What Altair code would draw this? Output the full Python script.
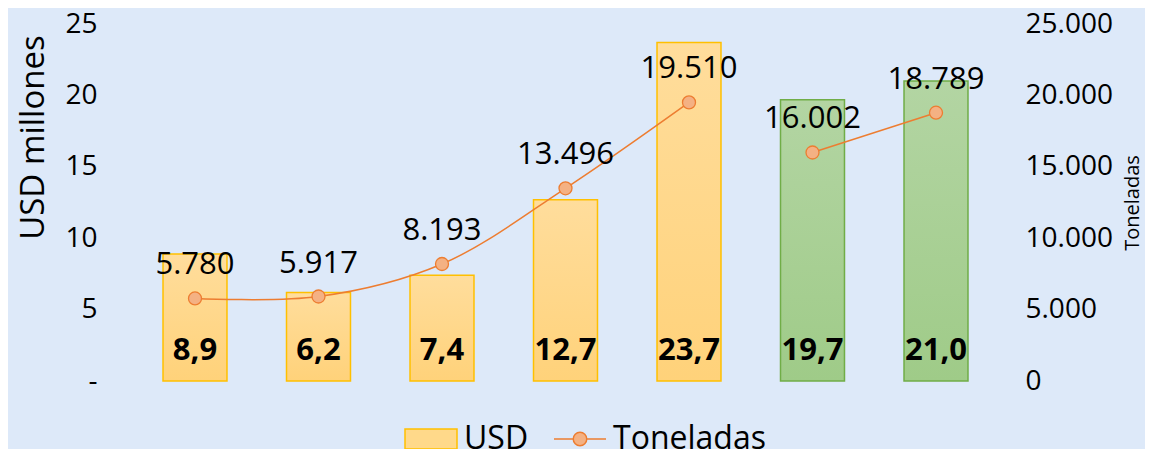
import altair as alt
import pandas as pd

categorias = ["2015", "2016", "2017", "2018", "2019", "2020", "2021"]
usd_millones = [8.9, 6.2, 7.4, 12.7, 23.7, 19.7, 21.0]
toneladas = [5780, 5917, 8193, 13496, 19510, 16002, 18789]
grupo = ["hist", "hist", "hist", "hist", "hist", "proy", "proy"]

series = ["USD", "Toneladas"]
serie_fill = ["#ffd98a", "#f4b183"]
serie_stroke = ["#ffc000", "#ed7d31"]
serie_shape = [
    "M-1,-0.385H1V0.385H-1Z",
    "M-1,0H-0.26M0.26,0H1M0.26,0A0.26,0.26,0,1,1,-0.26,0A0.26,0.26,0,1,1,0.26,0Z",
]

df = pd.DataFrame({
    "cat": categorias,
    "usd": usd_millones,
    "ton": toneladas,
    "grupo": grupo,
    "serie": ["Toneladas"] * len(categorias),
})

FONT = "Open Sans"

x = alt.X("cat:N", sort=categorias, axis=None,
          scale=alt.Scale(paddingInner=0.482, paddingOuter=0.243))

orange_grad = {"gradient": "linear", "x1": 0, "y1": 0, "x2": 0, "y2": 1,
               "stops": [{"offset": 0, "color": "#ffdd9c"}, {"offset": 1, "color": "#ffd27a"}]}
green_grad = {"gradient": "linear", "x1": 0, "y1": 0, "x2": 0, "y2": 1,
              "stops": [{"offset": 0, "color": "#b3d5a3"}, {"offset": 1, "color": "#9fcb88"}]}

y_left = alt.Y("usd:Q", scale=alt.Scale(domain=[0, 25], nice=False),
               axis=alt.Axis(title="USD millones", orient="left",
                             values=[0, 5, 10, 15, 20, 25],
                             labelExpr="datum.value == 0 ? '-' : datum.label",
                             labelFontSize=28, titleFontSize=33, labelPadding=36,
                             titlePadding=14, titleY=113))

base = alt.Chart(df)

bars_o = base.transform_filter("datum.grupo == 'hist'").mark_bar(
    fill=orange_grad, stroke="#ffc000", strokeWidth=1.5).encode(x=x, y=y_left)
bars_g = base.transform_filter("datum.grupo == 'proy'").mark_bar(
    fill=green_grad, stroke="#70ad47", strokeWidth=1.5).encode(x=x, y=y_left)
bar_txt = base.transform_calculate(
    lbl="replace(format(datum.usd, '.1f'), '.', ',')"
).mark_text(font=FONT, fontSize=31, fontWeight="bold", color="black", dy=-30).encode(
    x=x, y=alt.datum(0), text="lbl:N")

left = alt.layer(bars_o, bars_g, bar_txt)

y_right = alt.Y("ton:Q", scale=alt.Scale(domain=[0, 25000], nice=False),
                axis=alt.Axis(title="Toneladas", orient="right",
                              values=[0, 5000, 10000, 15000, 20000, 25000],
                              labelExpr="replace(format(datum.value, ','), ',', '.')",
                              labelFontSize=28, titleFontSize=20, labelPadding=27,
                              labelAlign="left", titleAngle=270, titlePadding=30))

line = base.mark_line(color="#ed7d31", strokeWidth=1.5, interpolate="catmull-rom").encode(
    x=x, y=y_right, detail="grupo:N")

pts = base.mark_circle(size=169, opacity=1, fill="#f4b183", stroke="#ed7d31",
                       strokeWidth=1.3).encode(x=x, y=y_right)

ton_txt = base.transform_calculate(
    lbl="replace(format(datum.ton, ','), ',', '.')"
).mark_text(font=FONT, fontSize=31, color="black", dy=-33).encode(
    x=x, y=alt.Y("ton:Q"), text="lbl:N")

legend = alt.Legend(
    title=None, orient="none", legendX=271, legendY=388,
    direction="horizontal", symbolSize=2704, symbolStrokeWidth=1.5,
    symbolOpacity=1, labelFontSize=32, labelFont=FONT, labelColor="black",
    labelOffset=6, columnPadding=22, padding=0,
)

legend_layer = base.transform_filter("false").mark_point(
    filled=True, size=2704, opacity=1).encode(
    x=x, y=alt.Y("ton:Q"),
    shape=alt.Shape("serie:N", scale=alt.Scale(domain=series, range=serie_shape), legend=legend),
    fill=alt.Fill("serie:N", scale=alt.Scale(domain=series, range=serie_fill), legend=legend),
    stroke=alt.Stroke("serie:N", scale=alt.Scale(domain=series, range=serie_stroke), legend=legend),
)

right = alt.layer(line, pts, ton_txt, legend_layer)

chart = alt.layer(left, right).resolve_scale(y="independent").properties(
    width=865, height=357,
    padding={"left": 125, "top": 16, "right": 147, "bottom": 80},
    autosize=alt.AutoSizeParams(type="none"),
    background="#dde9f9",
).configure_view(stroke=None).configure_axis(
    domain=False, ticks=False, grid=False,
    labelFont=FONT, titleFont=FONT, labelColor="black", titleColor="black",
    titleFontWeight="normal",
)

chart.save("out.html", embed_options={"renderer": "svg", "actions": False})
